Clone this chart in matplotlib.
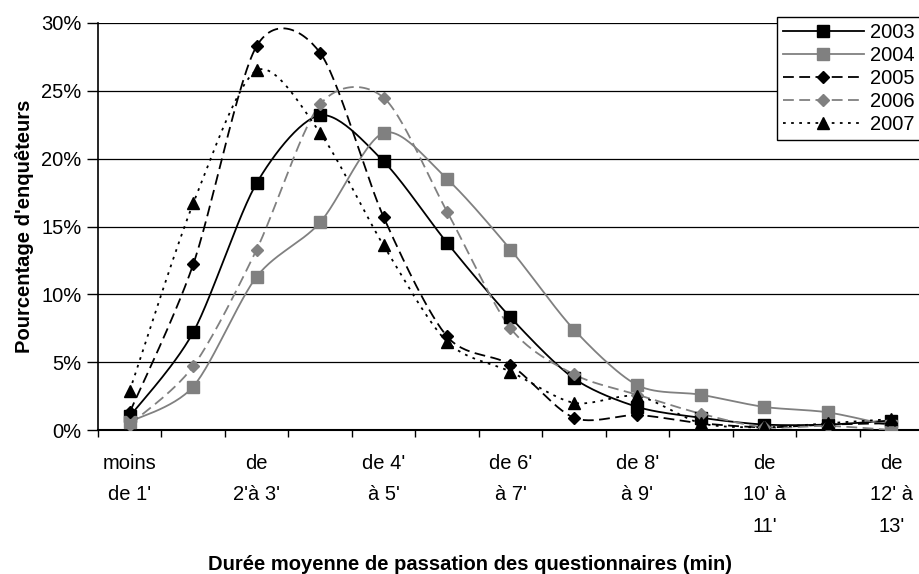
import matplotlib
matplotlib.use("Agg")
import matplotlib.pyplot as plt
from matplotlib.lines import Line2D
import numpy as np

plt.rcParams['font.family'] = ['Liberation Sans', 'DejaVu Sans']

# categories (13 classes of one minute), only every other one gets a label
categories = ["moins\nde 1'", "de 1'\nà 2'", "de\n2'à 3'", "de 3'\nà 4'", "de 4'\nà 5'",
              "de 5'\nà 6'", "de 6'\nà 7'", "de 7'\nà 8'", "de 8'\nà 9'", "de 9'\nà 10'",
              "de\n10' à\n11'", "de 11'\nà 12'", "de\n12' à\n13'"]

# percentage of interviewers, per year
y2003 = [1.0, 7.2, 18.2, 23.2, 19.8, 13.8, 8.3, 3.8, 1.7, 0.9, 0.4, 0.4, 0.7]
y2004 = [0.6, 3.2, 11.3, 15.3, 21.9, 18.5, 13.3, 7.4, 3.3, 2.6, 1.7, 1.3, 0.3]
y2005 = [1.3, 12.2, 28.3, 27.8, 15.7, 6.9, 4.8, 0.9, 1.1, 0.5, 0.2, 0.4, 0.5]
y2006 = [0.4, 4.7, 13.3, 24.0, 24.5, 16.1, 7.5, 4.1, 2.6, 1.2, 0.2, 0.3, 0.0]
y2007 = [2.9, 16.7, 26.5, 21.9, 13.6, 6.5, 4.3, 2.0, 2.5, 0.5, 0.2, 0.5, 0.8]

years = ['2003', '2004', '2005', '2006', '2007']
series = [y2003, y2004, y2005, y2006, y2007]

GRAY = '#808080'
styles = [
    dict(color='black', ls='-', marker='s', ms=8.5),
    dict(color=GRAY, ls='-', marker='s', ms=8.5),
    dict(color='black', ls=(0, (6, 3)), marker='D', ms=6.5),
    dict(color=GRAY, ls=(0, (6, 3)), marker='D', ms=6.5),
    dict(color='black', ls=(0, (1.5, 3)), marker='^', ms=8.5),
]


def smooth(x, y, n=30, k=7.0):
    # excel-like smoothed line (catmull-rom style cubic bezier)
    x = np.asarray(x, float); y = np.asarray(y, float)
    px = np.concatenate([[x[0]], x, [x[-1]]])
    py = np.concatenate([[y[0]], y, [y[-1]]])
    t = np.linspace(0, 1, n)
    xs, ys = [], []
    for i in range(1, len(px) - 2):
        p0 = np.array([px[i], py[i]]); p3 = np.array([px[i + 1], py[i + 1]])
        p1 = p0 + (p3 - np.array([px[i - 1], py[i - 1]])) / k
        p2 = p3 - (np.array([px[i + 2], py[i + 2]]) - p0) / k
        b = ((1 - t) ** 3)[:, None] * p0 + (3 * (1 - t) ** 2 * t)[:, None] * p1 \
            + (3 * (1 - t) * t ** 2)[:, None] * p2 + (t ** 3)[:, None] * p3
        xs.extend(b[:, 0]); ys.extend(b[:, 1])
    return np.array(xs), np.array(ys)


fig = plt.figure(figsize=(9.2, 5.74), dpi=100)
ax = fig.add_axes([98 / 920, 1 - 430 / 574, 825 / 920, 407 / 574])

x = np.arange(len(categories))
handles = []
for name, vals, st in zip(years, series, styles):
    sx, sy = smooth(x, vals)
    ax.plot(sx, sy, color=st['color'], ls=st['ls'], lw=1.3, zorder=3)
    ax.plot(x, vals, ls='none', marker=st['marker'], ms=st['ms'], color=st['color'],
            mec=st['color'], zorder=4)
    handles.append(Line2D([], [], color=st['color'], ls=st['ls'], lw=1.3,
                          marker=st['marker'], ms=st['ms'], mec=st['color']))

ax.set_xlim(-0.5, 12.5)
ax.set_ylim(0, 30)
ax.set_yticks(np.arange(0, 31, 5))
ax.set_yticklabels(['%d%%' % v for v in range(0, 31, 5)], fontsize=14.5)
ax.yaxis.grid(True, color='black', lw=0.9)
ax.set_axisbelow(True)

ax.set_xticks(x[::2])
ax.set_xticklabels(categories[::2], fontsize=14.5, linespacing=1.85)
ax.set_xticks(np.arange(-0.5, 13, 1), minor=True)
ax.tick_params(axis='x', which='major', length=0, pad=17)
ax.tick_params(axis='x', which='minor', length=5, width=1, direction='out')
ax.tick_params(axis='y', length=8, width=1, pad=4)

for s in ['top', 'right']:
    ax.spines[s].set_visible(False)
ax.spines['left'].set_linewidth(1.2)
ax.spines['bottom'].set_linewidth(1.5)

ax.set_ylabel("Pourcentage d'enquêteurs", fontsize=14.5, fontweight='bold', labelpad=5)
fig.text(470 / 920, 1 - 570 / 574, "Durée moyenne de passation des questionnaires (min)",
         ha='center', va='baseline', fontsize=14.5, fontweight='bold')

leg = fig.legend(handles, years, loc='upper left', bbox_to_anchor=(777 / 920, 1 - 17 / 574),
                 fontsize=14.5, handlelength=4.0, handletextpad=0.3, labelspacing=0.2,
                 borderpad=0.3, borderaxespad=0, frameon=True, fancybox=False)
leg.get_frame().set_edgecolor('black')
leg.get_frame().set_linewidth(1.0)
leg.get_frame().set_alpha(1)

fig.savefig('out.png', dpi=100)
